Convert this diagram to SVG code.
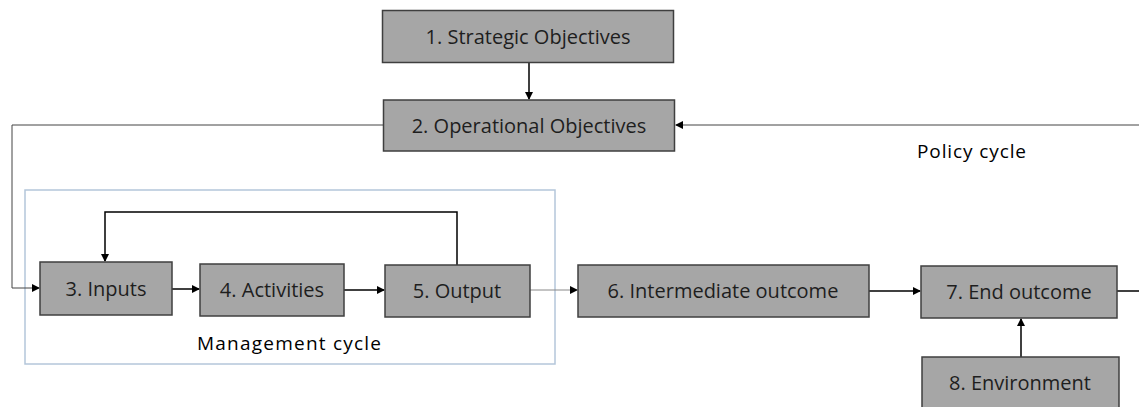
<svg xmlns="http://www.w3.org/2000/svg" width="1139" height="407" viewBox="0 0 1139 407">
<style>
.box{fill:#a6a6a6;stroke:#3f3f3f;stroke-width:1.5}
.lbl{font-family:"Open Sans","Liberation Sans",sans-serif;font-size:20px;fill:#1e1e1e;text-anchor:middle}
.cap{font-family:"Open Sans","Liberation Sans",sans-serif;font-size:19px;fill:#000}
.c{fill:none;stroke:#000;stroke-width:1.5}
.t{fill:none;stroke:#444;stroke-width:1}
</style>
<defs>
<marker id="ah" markerWidth="8" markerHeight="8" refX="7" refY="4" orient="auto" markerUnits="userSpaceOnUse">
<path d="M0,0 L8,4 L0,8 Z" fill="#000"/>
</marker>
</defs>
<rect x="25" y="190" width="530" height="174" fill="none" stroke="#b4c6da" stroke-width="1.5"/>
<g id="connectors">
<path class="c" d="M529,62 V99" marker-end="url(#ah)"/>
<path class="t" d="M1139,125 H676" marker-end="url(#ah)"/>
<path class="t" d="M383,125 H12 V288 H39" marker-end="url(#ah)"/>
<path class="c" d="M457,265 V212 H105 V261" marker-end="url(#ah)"/>
<path class="c" d="M172,289 H199" marker-end="url(#ah)"/>
<path class="c" d="M344,290 H384" marker-end="url(#ah)"/>
<path fill="none" stroke="#888" stroke-width="1" d="M530,290 H577" marker-end="url(#ah)"/>
<path class="c" d="M869,291 H920" marker-end="url(#ah)"/>
<path class="c" d="M1117,291 H1139"/>
<path class="c" d="M1021,357 V319" marker-end="url(#ah)"/>
</g>
<g id="n1"><rect class="box" x="382.5" y="10.5" width="291" height="52"/><text class="lbl" x="528" y="44">1. Strategic Objectives</text></g>
<g id="n2"><rect class="box" x="383.5" y="100" width="291" height="51"/><text class="lbl" x="529" y="133">2. Operational Objectives</text></g>
<g id="n3"><rect class="box" x="40" y="262" width="132" height="53"/><text class="lbl" x="106" y="296">3. Inputs</text></g>
<g id="n4"><rect class="box" x="200" y="264" width="144" height="52"/><text class="lbl" x="272" y="297">4. Activities</text></g>
<g id="n5"><rect class="box" x="385" y="265" width="145" height="52"/><text class="lbl" x="457" y="298">5. Output</text></g>
<g id="n6"><rect class="box" x="578" y="265" width="291" height="52"/><text class="lbl" x="723" y="298">6. Intermediate outcome</text></g>
<g id="n7"><rect class="box" x="921" y="266" width="196" height="52"/><text class="lbl" x="1019" y="299">7. End outcome</text></g>
<g id="n8"><rect class="box" x="922" y="357" width="197" height="60"/><text class="lbl" x="1020" y="390">8. Environment</text></g>
<text class="cap" x="917" y="158" textLength="109" lengthAdjust="spacing">Policy cycle</text>
<text class="cap" x="197" y="350" textLength="184" lengthAdjust="spacing">Management cycle</text>
</svg>
